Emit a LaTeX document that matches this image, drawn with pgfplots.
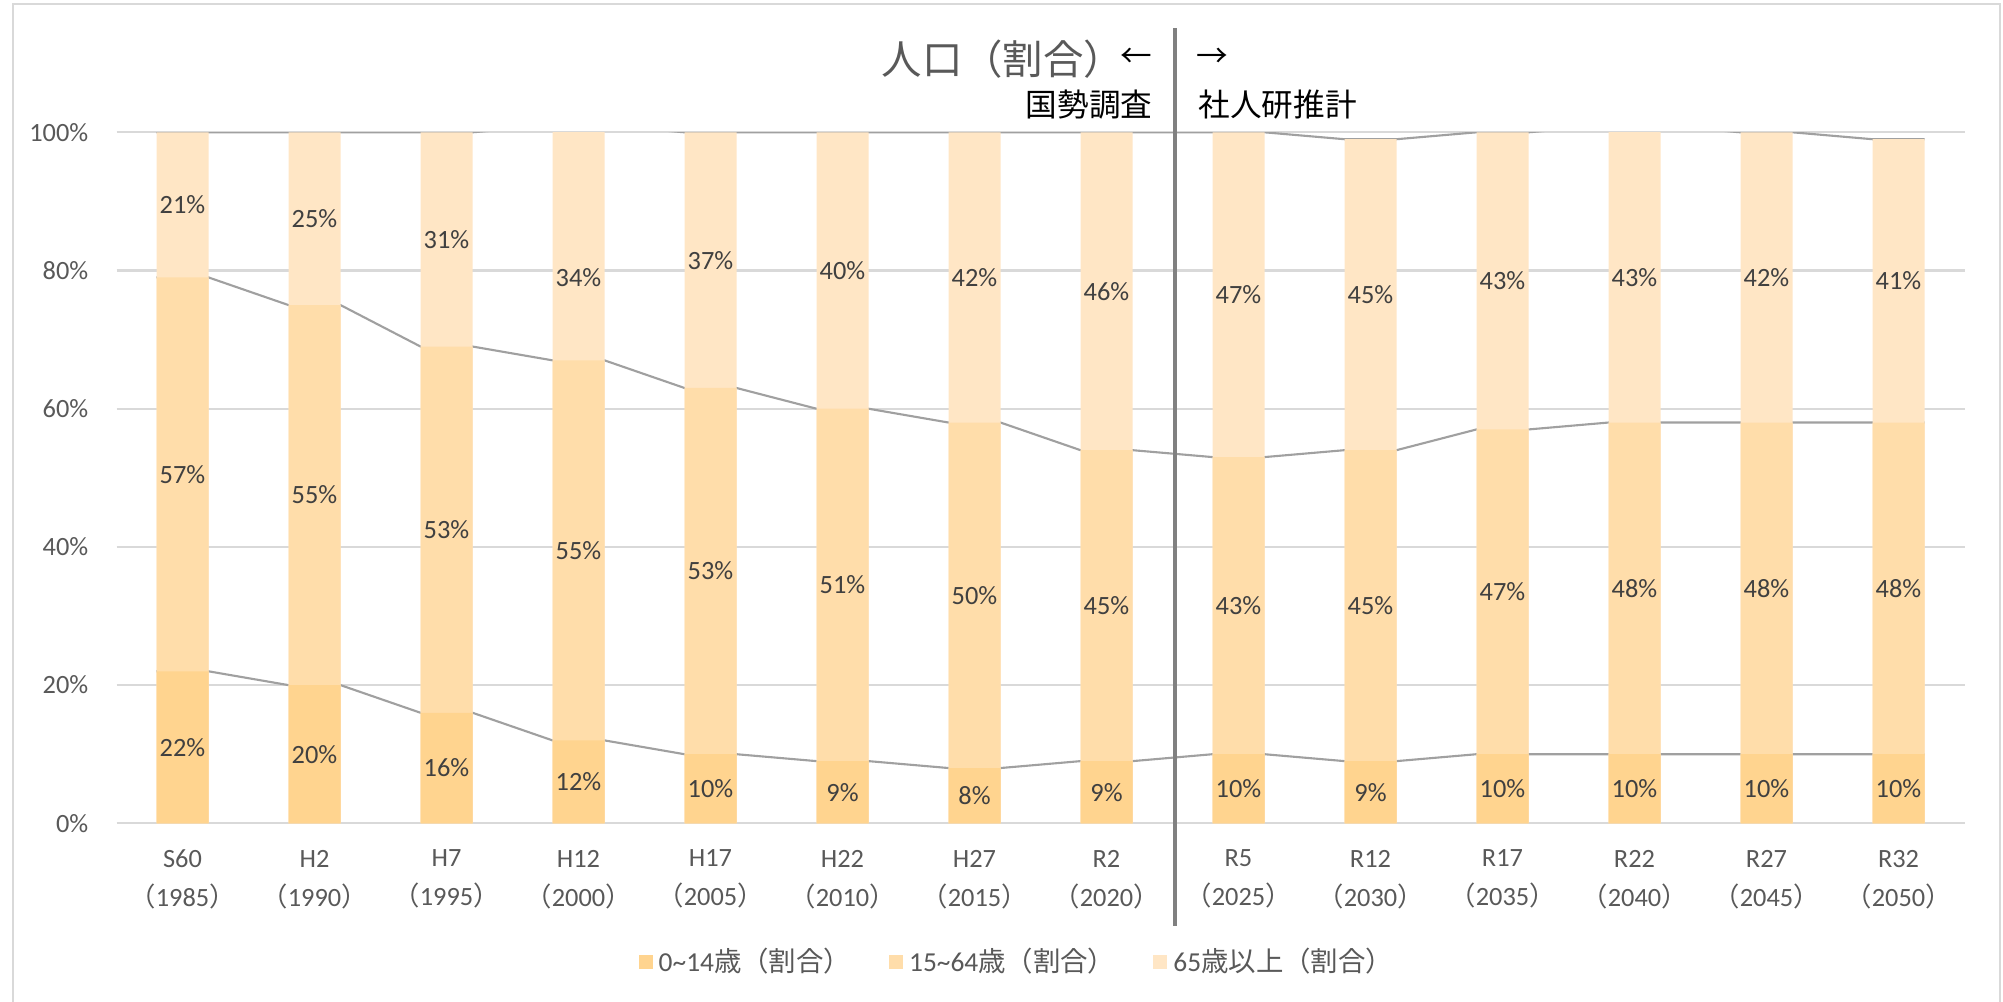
\documentclass[border=0pt]{standalone}
\usepackage{fontspec}
\usepackage{pgfplots}
\usepackage{pgfplotstable}
\pgfplotsset{compat=1.18}
\setmainfont{Carlito}
\newfontfamily\cjk{Noto Sans CJK JP}
\definecolor{cA}{HTML}{FFD48F}
\definecolor{cB}{HTML}{FFDDAA}
\definecolor{cC}{HTML}{FFE6C5}
\definecolor{tickc}{HTML}{595959}
\definecolor{labc}{HTML}{404040}
\definecolor{gridc}{HTML}{D9D9D9}
\definecolor{serc}{HTML}{A0A0A0}
\definecolor{divc}{HTML}{808080}
\newcommand{\yr}[1]{{\cjk （}#1{\cjk ）}}

\pgfplotstableread{
x c1 c2 c3
0 22 79 100
1 20 75 100
2 16 69 100
3 12 67 101
4 10 63 100
5 9 60 100
6 8 58 100
7 9 54 100
8 10 53 100
9 9 54 99
10 10 57 100
11 10 58 101
12 10 58 100
13 10 58 99
}\cum

\pgfplotstableread{
x y lab
0 11 22
1 10 20
2 8 16
3 6 12
4 5 10
5 4.5 9
6 4 8
7 4.5 9
8 5 10
9 4.5 9
10 5 10
11 5 10
12 5 10
13 5 10
0 50.5 57
1 47.5 55
2 42.5 53
3 39.5 55
4 36.5 53
5 34.5 51
6 33 50
7 31.5 45
8 31.5 43
9 31.5 45
10 33.5 47
11 34 48
12 34 48
13 34 48
0 89.5 21
1 87.5 25
2 84.5 31
3 79 34
4 81.5 37
5 80 40
6 79 42
7 77 46
8 76.5 47
9 76.5 45
10 78.5 43
11 79 43
12 79 42
13 78.5 41
}\labs

\pgfplotsset{
  mybar/.style={ybar, bar width=0.52cm, bar shift=0pt, draw=none,
    legend image code/.code={\fill[##1] (0cm,-0.07cm) rectangle (0.14cm,0.07cm);}},
  serline/.style={serc, line width=0.6pt, sharp plot, mark=none, forget plot},
}

\begin{document}
\begin{tikzpicture}
\useasboundingbox (0,0) rectangle (20.03,-10.01);
\fill[white] (0,0) rectangle (20.03,-10.01);
\draw[gridc, line width=0.6pt] (0.13,-0.04) rectangle (20.00,-10.5);
\begin{axis}[
  at={(1.165cm,-8.233cm)}, anchor=south west,
  scale only axis, width=18.48cm, height=6.91cm,
  xmin=-0.5, xmax=13.5, ymin=0, ymax=100,
  axis line style={draw=none},
  major tick length=0pt,
  ymajorgrids, grid style={gridc, line width=0.6pt},
  ytick={0,20,40,60,80,100},
  yticklabels={0\%,20\%,40\%,60\%,80\%,100\%},
  xtick={0,1,...,13},
  xticklabels={{S60\\\yr{1985}},{H2\\\yr{1990}},{H7\\\yr{1995}},{H12\\\yr{2000}},{H17\\\yr{2005}},{H22\\\yr{2010}},{H27\\\yr{2015}},{R2\\\yr{2020}},{R5\\\yr{2025}},{R12\\\yr{2030}},{R17\\\yr{2035}},{R22\\\yr{2040}},{R27\\\yr{2045}},{R32\\\yr{2050}}},
  every tick label/.append style={font=\fontsize{7.5}{11.1}\selectfont, text=tickc},
  yticklabel style={anchor=east, inner sep=0pt, xshift=-0.275cm},
  xticklabel style={align=center, anchor=north, inner sep=0pt, yshift=-0.26cm},
  reverse legend,
  legend style={draw=none, fill=none, at={(0.2822,-0.2007)}, anchor=west,
    legend columns=3, inner sep=0pt,
    nodes={inner sep=0pt, text=tickc, font=\fontsize{7.8}{9}\selectfont},
    /tikz/every odd column/.append style={column sep=0.06cm},
    /tikz/every even column/.append style={column sep=0.38cm}},
]
\addplot[serline] coordinates {(-0.197,22)(0.197,22)(0.803,20)(1.197,20)(1.803,16)(2.197,16)(2.803,12)(3.197,12)(3.803,10)(4.197,10)(4.803,9)(5.197,9)(5.803,8)(6.197,8)(6.803,9)(7.197,9)(7.803,10)(8.197,10)(8.803,9)(9.197,9)(9.803,10)(10.197,10)(10.803,10)(11.197,10)(11.803,10)(12.197,10)(12.803,10)(13.197,10)};
\addplot[serline] coordinates {(-0.197,79)(0.197,79)(0.803,75)(1.197,75)(1.803,69)(2.197,69)(2.803,67)(3.197,67)(3.803,63)(4.197,63)(4.803,60)(5.197,60)(5.803,58)(6.197,58)(6.803,54)(7.197,54)(7.803,53)(8.197,53)(8.803,54)(9.197,54)(9.803,57)(10.197,57)(10.803,58)(11.197,58)(11.803,58)(12.197,58)(12.803,58)(13.197,58)};
\addplot[serline] coordinates {(-0.197,100)(0.197,100)(0.803,100)(1.197,100)(1.803,100)(2.197,100)(2.803,101)(3.197,101)(3.803,100)(4.197,100)(4.803,100)(5.197,100)(5.803,100)(6.197,100)(6.803,100)(7.197,100)(7.803,100)(8.197,100)(8.803,99)(9.197,99)(9.803,100)(10.197,100)(10.803,101)(11.197,101)(11.803,100)(12.197,100)(12.803,99)(13.197,99)};
\addplot[mybar, fill=cC] table[x=x, y=c3] {\cum};
\addlegendentry{65{\cjk 歳以上（割合）}}
\addplot[mybar, fill=cB] table[x=x, y=c2] {\cum};
\addlegendentry{15\textasciitilde 64{\cjk 歳（割合）}}
\addplot[mybar, fill=cA] table[x=x, y=c1] {\cum};
\addlegendentry{0\textasciitilde 14{\cjk 歳（割合）}}
\addplot[draw=none, mark=none, forget plot,
  nodes near coords={\pgfplotspointmeta\%},
  point meta=explicit symbolic,
  every node near coord/.style={anchor=center, inner sep=0pt, font=\fontsize{7.5}{9}\selectfont, text=labc}]
  table[x=x, y=y, meta=lab] {\labs};
\end{axis}
\draw[divc, line width=1.15pt] (11.75,-0.28) -- (11.75,-9.26);
\node[anchor=west, inner sep=0pt, text=tickc, font=\cjk\fontsize{11.5}{14}\selectfont] at (8.81,-0.59) {人口（割合）};
\node[anchor=center, inner sep=0pt, font=\cjk\fontsize{9}{11}\selectfont] at (11.36,-0.58) {←};
\node[anchor=center, inner sep=0pt, font=\cjk\fontsize{9}{11}\selectfont] at (12.12,-0.58) {→};
\node[anchor=east, inner sep=0pt, font=\cjk\fontsize{9}{11}\selectfont] at (11.53,-1.05) {国勢調査};
\node[anchor=west, inner sep=0pt, font=\cjk\fontsize{9}{11}\selectfont] at (11.98,-1.05) {社人研推計};
\end{tikzpicture}
\end{document}
